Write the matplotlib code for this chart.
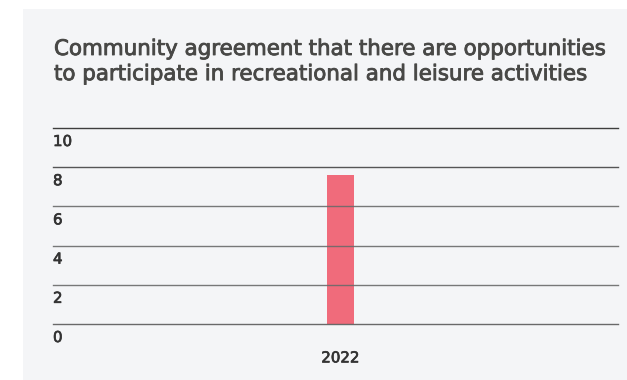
import matplotlib.pyplot as plt
import matplotlib.transforms as mtransforms
import matplotlib.patheffects as pe
from matplotlib.patches import Rectangle

# ------------------------------------------------------------------
# Data
# ------------------------------------------------------------------
years = ["2022"]
agreement = [7.6]
y_ticks = [0, 2, 4, 6, 8, 10]
grid_colors = ["#5a5a5a", "#6a6a6a", "#6a6a6a", "#6a6a6a", "#444444", "#2a2a2a"]

title = ("Community agreement that there are opportunities\n"
         "to participate in recreational and leisure activities")

W, H = 627, 380
fig = plt.figure(figsize=(W / 100, H / 100), dpi=100)
fig.patch.set_facecolor("white")

# light grey card behind the chart
fig.patches.append(Rectangle((23 / W, 0), 1 - 23 / W, 1 - 9 / H,
                             transform=fig.transFigure,
                             facecolor="#f4f5f7", edgecolor="none", zorder=-5))

title_col = "#484846"
label_col = "#333333"
# a thin outline gives the text a medium weight
thick_title = [pe.withStroke(linewidth=0.6, foreground=title_col)]
thick_label = [pe.withStroke(linewidth=0.5, foreground=label_col)]

fig.text(54 / W, 1 - 39 / H, title, ha="left", va="top",
         fontsize=15.4, family="DejaVu Sans", color=title_col,
         linespacing=1.32, path_effects=thick_title)

ax = fig.add_axes([53 / W, 56 / H, 565 / W, 196 / H])
ax.set_facecolor("none")
for s in ax.spines.values():
    s.set_visible(False)

x = list(range(len(years)))
ax.bar(x, agreement, width=0.0467, color="#f06b7b", zorder=1)

ax.set_ylim(0, 10)
ax.set_xlim(-0.5088, 0.4912)
ax.set_xticks(x)
ax.set_xticklabels(years, family="DejaVu Sans", fontsize=10.8, color=label_col,
                   path_effects=thick_label)
ax.tick_params(axis="x", length=0, pad=19)
ax.set_yticks([])

for t, c in zip(y_ticks, grid_colors):
    ax.axhline(t, color=c, linewidth=1.0, zorder=2, alpha=0.9, clip_on=False)

# tick labels sit just under their gridline, flush left
off = mtransforms.ScaledTranslation(0, -18 / 100, fig.dpi_scale_trans)
trans = mtransforms.blended_transform_factory(ax.transAxes, ax.transData) + off
for t in y_ticks:
    ax.text(0.0, t, str(t), transform=trans, ha="left", va="baseline",
            family="DejaVu Sans", fontsize=10.8, color=label_col,
            path_effects=thick_label)

fig.savefig("out.png", dpi=100, facecolor=fig.get_facecolor())
